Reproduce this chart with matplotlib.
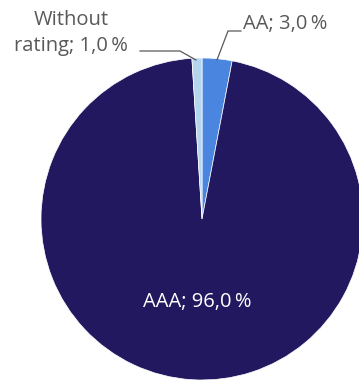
import matplotlib.pyplot as plt

labels = ['AA', 'AAA', 'Without rating']
shares = [3.0, 96.0, 1.0]
colors = ['#4A86E0', '#211860', '#B5D5EE']

W, H = 359, 382
fig = plt.figure(figsize=(W / 100, H / 100), dpi=100)
ax = fig.add_axes([0, 0, 1, 1])

# pixel coordinates, y up
cx, cy, r = 202, H - 219, 161
ax.pie(shares, colors=colors, startangle=90, counterclock=False,
       center=(cx, cy), radius=r,
       wedgeprops=dict(edgecolor='white', linewidth=0.5))
ax.set_xlim(0, W)
ax.set_ylim(0, H)
ax.set_aspect('equal')
ax.axis('off')

font = dict(family='Open Sans', fontsize=14.5)
grey = '#595959'

def fmt(v):
    return ('%.1f' % v).replace('.', ',') + '\u2009%'

# AAA label inside
ax.text(197, H - 302, '%s; %s' % (labels[1], fmt(shares[1])), color='white',
        ha='center', va='center', **font)

# AA label with leader line
ax.plot([217, 228, 241], [H - 60, H - 31, H - 31], color=grey, lw=0.9)
ax.text(243, H - 24, '%s; %s' % (labels[0], fmt(shares[0])), color=grey,
        ha='left', va='center', **font)

# Without rating label with leader line
ax.plot([140, 180, 196], [H - 51, H - 51, H - 60], color=grey, lw=0.9)
ax.text(71, H - 33, 'Without\nrating; %s' % fmt(shares[2]), color=grey,
        ha='center', va='center', linespacing=1.45, **font)

fig.savefig('out.png', dpi=100)
